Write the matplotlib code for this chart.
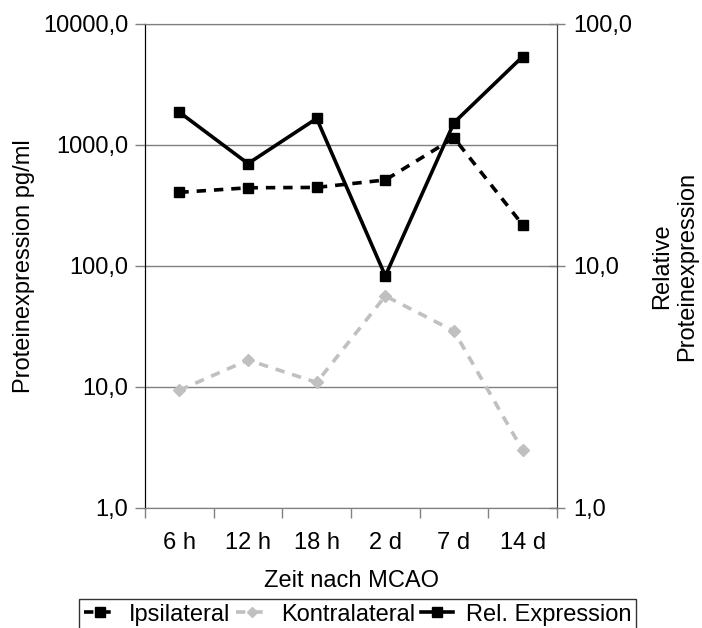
import matplotlib
matplotlib.use("Agg")
import matplotlib.pyplot as plt
from matplotlib.ticker import FixedLocator, FuncFormatter, NullLocator

plt.rcParams['font.family'] = ['Liberation Sans', 'DejaVu Sans']

zeiten = ['6 h', '12 h', '18 h', '2 d', '7 d', '14 d']
ipsilateral = [406, 443, 446, 514, 1143, 219]
kontralateral = [9.4, 16.7, 10.9, 56.5, 29.0, 3.0]
rel_expression = [43.2, 26.5, 40.7, 9.1, 39.1, 73.3]

left_ticks = [1, 10, 100, 1000, 10000]
right_ticks = [1, 10, 100]


def komma(v, pos=None):
    return f"{v:.1f}".replace('.', ',')


fs = 17
fig = plt.figure(figsize=(7.02, 6.28), dpi=100)
ax = fig.add_axes([0.2066, 0.1911, 0.5868, 0.7707])
ax2 = ax.twinx()

x = list(range(len(zeiten)))

l1, = ax.plot(x, ipsilateral, color='black', lw=2.6, ls=(0, (2.6, 2.2)),
              marker='s', ms=7.5, mfc='black', mec='black', label='Ipsilateral')
l2, = ax.plot(x, kontralateral, color='#c0c0c0', lw=2.6, ls=(0, (2.6, 2.2)),
              marker='D', ms=6, mfc='#c0c0c0', mec='#c0c0c0', label='Kontralateral')
l3, = ax2.plot(x, rel_expression, color='black', lw=2.6, ls='-',
               marker='s', ms=7.5, mfc='black', mec='black', label='Rel. Expression')

ax.set_yscale('log')
ax.set_ylim(1, 10000)
ax.yaxis.set_major_locator(FixedLocator(left_ticks))
ax.yaxis.set_minor_locator(NullLocator())
ax.yaxis.set_major_formatter(FuncFormatter(komma))
ax.grid(axis='y', color='#808080', lw=1.0)
ax.set_axisbelow(True)

ax2.set_yscale('log')
ax2.set_ylim(1, 100)
ax2.yaxis.set_major_locator(FixedLocator(right_ticks))
ax2.yaxis.set_minor_locator(NullLocator())
ax2.yaxis.set_major_formatter(FuncFormatter(komma))

# category boundaries get the tick marks, labels sit between them
ax.set_xlim(-0.5, len(zeiten) - 0.5)
ax.set_xticks([i - 0.5 for i in range(len(zeiten) + 1)])
ax.set_xticklabels([])
ax.set_xticks(x, minor=True)
ax.set_xticklabels(zeiten, minor=True, fontsize=fs)
ax.tick_params(axis='x', which='minor', length=0, pad=17)
ax.tick_params(axis='x', which='major', length=7, width=1, color='#808080', direction='out')

ax.tick_params(axis='y', which='major', length=7, width=1, color='#808080',
               direction='out', labelsize=fs, pad=5)
ax2.tick_params(axis='y', which='major', length=12, width=1, color='#808080',
                direction='inout', labelsize=fs, pad=6)

for a in (ax, ax2):
    a.spines['top'].set_color('#808080')
    a.spines['bottom'].set_color('#808080')
    a.spines['left'].set_color('black')
    a.spines['right'].set_color('#404040')

ax.set_ylabel('Proteinexpression pg/ml', fontsize=fs, labelpad=6)
ax2.set_ylabel('Relative\nProteinexpression', fontsize=fs, labelpad=13)
ax.set_xlabel('Zeit nach MCAO', fontsize=fs, labelpad=12)

leg = fig.legend(handles=[l1, l2, l3], loc='upper left', ncol=3,
                 bbox_to_anchor=(79 / 702, 1 - 599 / 628), fontsize=fs,
                 frameon=True, fancybox=False, edgecolor='black',
                 handlelength=1.35, handletextpad=0.55, columnspacing=0.25,
                 borderpad=0.2, borderaxespad=0, markerscale=0.9)
leg.get_frame().set_linewidth(1.0)

fig.savefig('out.png', dpi=100)
